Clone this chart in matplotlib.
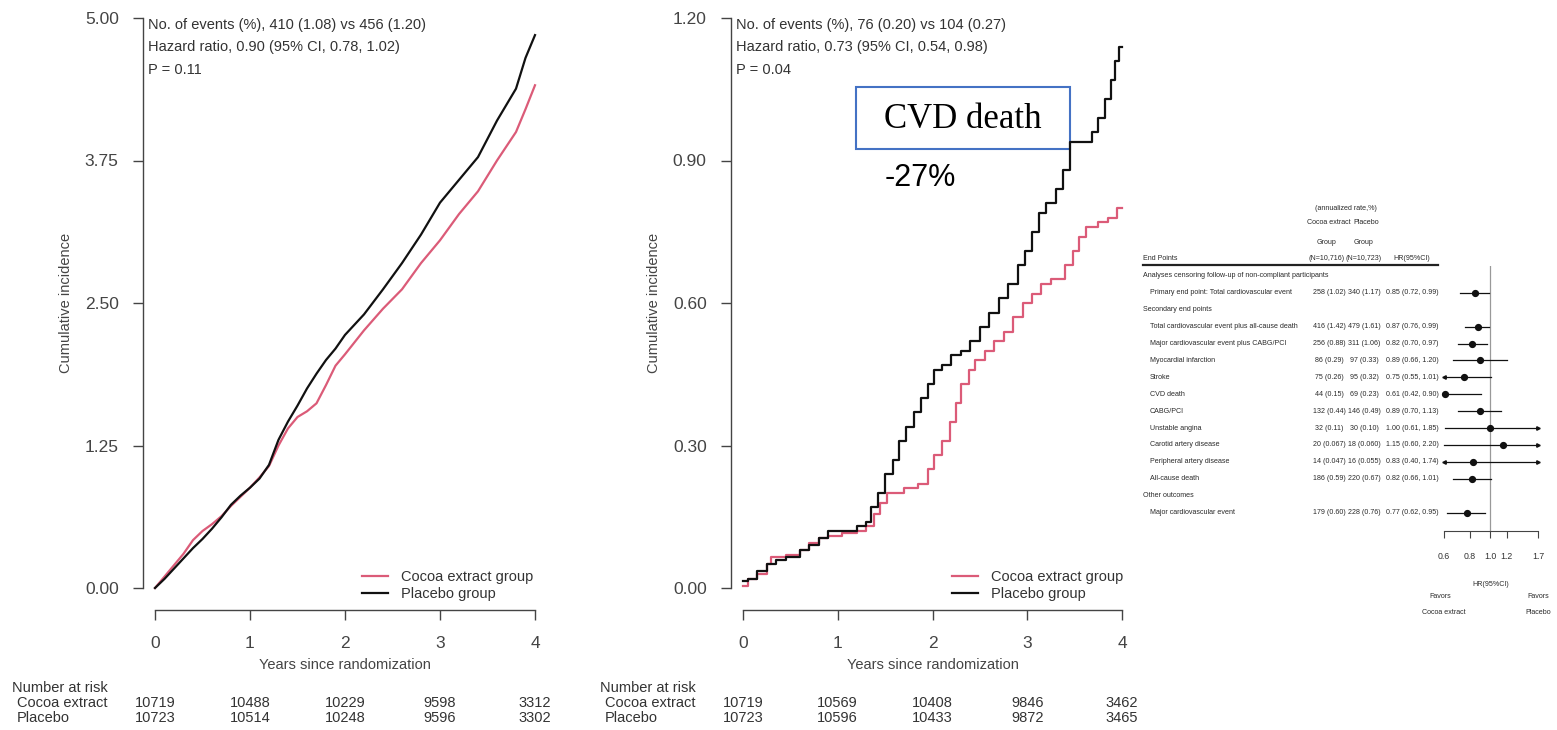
import numpy as np
import matplotlib.pyplot as plt
from matplotlib import transforms

W, H = 1557, 730

# Total cardiovascular events, cumulative incidence (%)
tot_t_cocoa = [0, 0.1, 0.2, 0.3, 0.4, 0.5, 0.6, 0.7, 0.8, 0.9, 1.0, 1.1, 1.2, 1.3, 1.4, 1.5,
               1.6, 1.7, 1.8, 1.9, 2.0, 2.2, 2.4, 2.6, 2.8, 3.0, 3.2, 3.4, 3.6, 3.8, 3.9, 4.0]
tot_cocoa = [0, 0.1, 0.2, 0.3, 0.42, 0.5, 0.56, 0.63, 0.72, 0.8, 0.88, 0.97, 1.07, 1.25, 1.4, 1.5,
             1.55, 1.62, 1.78, 1.95, 2.05, 2.26, 2.45, 2.62, 2.85, 3.05, 3.28, 3.48, 3.75, 4.0, 4.2, 4.41]
tot_t_placebo = [0, 0.1, 0.2, 0.3, 0.4, 0.5, 0.6, 0.7, 0.8, 0.9, 1.0, 1.1, 1.2, 1.3, 1.4, 1.5,
                 1.6, 1.7, 1.8, 1.9, 2.0, 2.2, 2.4, 2.6, 2.8, 3.0, 3.2, 3.4, 3.6, 3.8, 3.9, 4.0]
tot_placebo = [0, 0.08, 0.17, 0.26, 0.35, 0.43, 0.52, 0.62, 0.73, 0.81, 0.88, 0.96, 1.08, 1.3, 1.46, 1.6,
               1.75, 1.88, 2.0, 2.1, 2.22, 2.4, 2.62, 2.85, 3.1, 3.38, 3.58, 3.78, 4.1, 4.38, 4.65, 4.85]

# CVD death, cumulative incidence (%), step curves
cvd_t_cocoa = [0, 0.05, 0.15, 0.25, 0.3, 0.45, 0.6, 0.7, 0.8, 0.9, 1.05, 1.2, 1.3, 1.38, 1.45,
               1.52, 1.7, 1.85, 1.95, 2.02, 2.1, 2.18, 2.25, 2.3, 2.38, 2.45, 2.55, 2.65, 2.75,
               2.85, 2.95, 3.05, 3.15, 3.25, 3.4, 3.48, 3.55, 3.62, 3.75, 3.85, 3.95, 4.0]
cvd_cocoa = [0.005, 0.02, 0.03, 0.05, 0.065, 0.07, 0.08, 0.095, 0.105, 0.11, 0.115, 0.12, 0.13, 0.155, 0.18,
             0.2, 0.21, 0.22, 0.25, 0.28, 0.31, 0.35, 0.39, 0.43, 0.46, 0.48, 0.5, 0.52, 0.54,
             0.57, 0.6, 0.62, 0.64, 0.65, 0.68, 0.71, 0.74, 0.76, 0.77, 0.78, 0.8, 0.8]
cvd_t_placebo = [0, 0.05, 0.15, 0.25, 0.35, 0.45, 0.6, 0.7, 0.8, 0.9, 1.0, 1.2, 1.3, 1.35, 1.42, 1.5,
                 1.58, 1.65, 1.72, 1.8, 1.88, 1.95, 2.02, 2.1, 2.2, 2.3, 2.4, 2.5, 2.6, 2.7, 2.8,
                 2.9, 2.98, 3.05, 3.12, 3.2, 3.3, 3.38, 3.45, 3.6, 3.68, 3.75, 3.82, 3.88, 3.93, 3.97, 4.0]
cvd_placebo = [0.015, 0.02, 0.035, 0.05, 0.06, 0.065, 0.08, 0.09, 0.105, 0.12, 0.12, 0.13, 0.14, 0.17, 0.2, 0.24,
               0.27, 0.31, 0.34, 0.37, 0.4, 0.43, 0.46, 0.47, 0.49, 0.5, 0.52, 0.55, 0.58, 0.61, 0.64,
               0.68, 0.71, 0.75, 0.79, 0.81, 0.84, 0.88, 0.94, 0.94, 0.96, 0.99, 1.03, 1.07, 1.11, 1.14, 1.14]

risk_years = [0, 1, 2, 3, 4]
tot_risk_cocoa = [10719, 10488, 10229, 9598, 3312]
tot_risk_placebo = [10723, 10514, 10248, 9596, 3302]
cvd_risk_cocoa = [10719, 10569, 10408, 9846, 3462]
cvd_risk_placebo = [10723, 10596, 10433, 9872, 3465]

tot_stats = ['No. of events (%), 410 (1.08) vs 456 (1.20)',
             'Hazard ratio, 0.90 (95% CI, 0.78, 1.02)', 'P = 0.11']
cvd_stats = ['No. of events (%), 76 (0.20) vs 104 (0.27)',
             'Hazard ratio, 0.73 (95% CI, 0.54, 0.98)', 'P = 0.04']

# forest plot: per-protocol analyses
fp_labels = ['Analyses censoring follow-up of non-compliant participants',
             'Primary end point: Total cardiovascular event',
             'Secondary end points',
             'Total cardiovascular event plus all-cause death',
             'Major cardiovascular event plus CABG/PCI',
             'Myocardial infarction', 'Stroke', 'CVD death', 'CABG/PCI',
             'Unstable angina', 'Carotid artery disease', 'Peripheral artery disease',
             'All-cause death', 'Other outcomes', 'Major cardiovascular event']
fp_indent = [0, 1, 0, 1, 1, 1, 1, 1, 1, 1, 1, 1, 1, 0, 1]
fp_cocoa = ['', '258 (1.02)', '', '416 (1.42)', '256 (0.88)', '86 (0.29)', '75 (0.26)', '44 (0.15)',
            '132 (0.44)', '32 (0.11)', '20 (0.067)', '14 (0.047)', '186 (0.59)', '', '179 (0.60)']
fp_placebo = ['', '340 (1.17)', '', '479 (1.61)', '311 (1.06)', '97 (0.33)', '95 (0.32)', '69 (0.23)',
              '146 (0.49)', '30 (0.10)', '18 (0.060)', '16 (0.055)', '220 (0.67)', '', '228 (0.76)']
nan = np.nan
fp_hr = [nan, 0.85, nan, 0.87, 0.82, 0.89, 0.75, 0.61, 0.89, 1.00, 1.15, 0.83, 0.82, nan, 0.77]
fp_lo = [nan, 0.72, nan, 0.76, 0.70, 0.66, 0.55, 0.42, 0.70, 0.61, 0.60, 0.40, 0.66, nan, 0.62]
fp_hi = [nan, 0.99, nan, 0.99, 0.97, 1.20, 1.01, 0.90, 1.13, 1.85, 2.20, 1.74, 1.01, nan, 0.95]
fp_ticks = [0.6, 0.8, 1.0, 1.2, 1.7]

PINK = '#DB5B78'
INK = '#333333'
AX = '#444444'

plt.rcParams['font.family'] = ['Liberation Sans', 'DejaVu Sans']

fig = plt.figure(figsize=(W / 100, H / 100), dpi=100)
ov = fig.add_axes([0, 0, 1, 1])
ov.set_xlim(0, W)
ov.set_ylim(H, 0)
ov.axis('off')


def px_axes(x0, y0, x1, y1):
    return fig.add_axes([x0 / W, 1 - y1 / H, (x1 - x0) / W, (y1 - y0) / H])


def km_panel(spine_x, zero_x, four_x, ymax, yticks, t_c, v_c, t_p, v_p, steps,
             stats, risk_c, risk_p, leg_xy):
    right_x = four_x + 12
    ax = px_axes(spine_x, 18, right_x, 610)
    ppy = (four_x - zero_x) / 4
    ax.set_xlim((spine_x - zero_x) / ppy, (right_x - zero_x) / ppy)
    ppv = (588 - 18) / ymax
    ax.set_ylim(-(610 - 588) / ppv, ymax)
    ax.patch.set_alpha(0)

    ds = 'steps-post' if steps else 'default'
    ax.plot(t_c, v_c, color=PINK, lw=1.6, drawstyle=ds, label='Cocoa extract group')
    ax.plot(t_p, v_p, color='#111111', lw=1.6, drawstyle=ds, label='Placebo group')

    for s in ['top', 'right']:
        ax.spines[s].set_visible(False)
    for s in ['left', 'bottom']:
        ax.spines[s].set_color(AX)
        ax.spines[s].set_linewidth(1.0)
    ax.spines['left'].set_bounds(0, ymax)
    ax.spines['bottom'].set_bounds(0, 4)
    ax.set_xticks(risk_years)
    ax.set_yticks(yticks)
    ax.set_yticklabels(['%.2f' % v for v in yticks])
    ax.tick_params(length=7, width=1.0, color=AX, labelcolor=AX, labelsize=12.5)
    ax.tick_params(axis='y', pad=10.5)
    ax.tick_params(axis='x', pad=12)

    width_px = right_x - spine_x
    ax.set_ylabel('Cumulative incidence', fontsize=10.5, color=AX)
    ax.yaxis.set_label_coords(-70 / width_px, (610 - 303) / 592)
    ax.set_xlabel('Years since randomization', fontsize=10.5, color=AX)
    ax.xaxis.set_label_coords(((zero_x + four_x) / 2 - spine_x) / width_px, (610 - 658) / 592)

    for i, line in enumerate(stats):
        ov.text(spine_x + 5, 25 + 22.5 * i, line, fontsize=10.5, color=INK, va='center')

    ax.legend(loc='upper left', bbox_to_anchor=(leg_xy[0] / W, 1 - leg_xy[1] / H),
              bbox_transform=fig.transFigure, frameon=False, borderpad=0, borderaxespad=0,
              handlelength=1.8, handletextpad=0.9, labelspacing=0.2, fontsize=10.5,
              labelcolor=INK)

    tr = transforms.blended_transform_factory(ax.transData, ov.transData)
    for t, nc, npl in zip(risk_years, risk_c, risk_p):
        ax.text(t, 703, str(nc), transform=tr, ha='center', va='center', fontsize=10.5, color=INK)
        ax.text(t, 718, str(npl), transform=tr, ha='center', va='center', fontsize=10.5, color=INK)
    ov.text(spine_x - 131, 688, 'Number at risk', fontsize=10.5, color=INK, va='center')
    ov.text(spine_x - 126, 703, 'Cocoa extract', fontsize=10.5, color=INK, va='center')
    ov.text(spine_x - 126, 718, 'Placebo', fontsize=10.5, color=INK, va='center')
    return ax


km_panel(143, 155, 535, 5.0, [0, 1.25, 2.5, 3.75, 5.0],
         tot_t_cocoa, tot_cocoa, tot_t_placebo, tot_placebo, False,
         tot_stats, tot_risk_cocoa, tot_risk_placebo, (362, 570))
km_panel(731, 743, 1122, 1.2, [0, 0.3, 0.6, 0.9, 1.2],
         cvd_t_cocoa, cvd_cocoa, cvd_t_placebo, cvd_placebo, True,
         cvd_stats, cvd_risk_cocoa, cvd_risk_placebo, (952, 570))

# callout box
ov.add_patch(plt.Rectangle((856, 87), 214, 62, fill=True, facecolor='white',
                           edgecolor='#4472C4', lw=1.5, zorder=5))
ov.text(963, 119, 'CVD death', fontsize=25, family='Liberation Serif', color='black',
        ha='center', va='center', zorder=6)
ov.text(885, 178, '-27%', fontsize=22, family='Liberation Sans', color='black',
        ha='left', va='center', zorder=6)

# forest plot
row0_px, row_step = 276, 16.9
fa = px_axes(1444, 266, 1538, 531)
fa.set_xscale('log')
fa.set_xlim(0.6, 1.7)
fa.set_ylim((531 - row0_px) / row_step, (266 - row0_px) / row_step)
fa.patch.set_alpha(0)
for s in ['top', 'right', 'left']:
    fa.spines[s].set_visible(False)
fa.spines['bottom'].set_color(AX)
fa.spines['bottom'].set_linewidth(0.8)
fa.set_yticks([])
fa.set_xticks(fp_ticks)
fa.set_xticklabels(['%.1f' % v for v in fp_ticks])
fa.minorticks_off()
fa.tick_params(axis='x', length=5, width=0.8, color=AX, labelcolor=INK, labelsize=6.3, pad=10)
fa.axvline(1.0, color='#999999', lw=0.9)
for r, (hr, lo, hi) in enumerate(zip(fp_hr, fp_lo, fp_hi)):
    if np.isnan(hr):
        continue
    fa.plot([max(lo, 0.6), min(hi, 1.7)], [r, r], color='#111111', lw=0.9, clip_on=False)
    fa.plot(hr, r, 'o', ms=4.2, color='#111111', clip_on=False)
    if hi > 1.7:
        fa.plot(1.7, r, marker='>', ms=2.5, color='#111111', clip_on=False)
    if lo < 0.6:
        fa.plot(0.6, r, marker='<', ms=2.5, color='#111111', clip_on=False)

fp_font = dict(fontsize=5.1, color='#2a2a2a', va='center')
ftr = transforms.blended_transform_factory(ov.transData, fa.transData)
for r, lab in enumerate(fp_labels):
    ov.text(1143 + 7 * fp_indent[r], r, lab, transform=ftr, ha='left', **fp_font)
    if fp_cocoa[r]:
        ov.text(1329, r, fp_cocoa[r], transform=ftr, ha='center', **fp_font)
        ov.text(1364, r, fp_placebo[r], transform=ftr, ha='center', **fp_font)
        ov.text(1412, r, '%.2f (%.2f, %.2f)' % (fp_hr[r], fp_lo[r], fp_hi[r]),
                transform=ftr, ha='center', **fp_font)

ov.text(1346, 208, '(annualized rate,%)', ha='center', **fp_font)
ov.text(1329, 223, 'Cocoa extract', ha='center', **fp_font)
ov.text(1366, 223, 'Placebo', ha='center', **fp_font)
ov.text(1327, 242, 'Group', ha='center', **fp_font)
ov.text(1364, 242, 'Group', ha='center', **fp_font)
ov.text(1143, 258, 'End Points', ha='left', **fp_font)
ov.text(1327, 258, '(N=10,716)', ha='center', **fp_font)
ov.text(1364, 258, '(N=10,723)', ha='center', **fp_font)
ov.text(1412, 258, 'HR(95%CI)', ha='center', **fp_font)
ov.plot([1143, 1438], [265, 265], color='#222222', lw=1.6)
ov.text(1491, 585, 'HR(95%CI)', ha='center', **fp_font)
ov.text(1440, 597, 'Favors', ha='center', **fp_font)
ov.text(1444, 613, 'Cocoa extract', ha='center', **fp_font)
ov.text(1538, 597, 'Favors', ha='center', **fp_font)
ov.text(1538, 613, 'Placebo', ha='center', **fp_font)

fig.savefig('out.png', dpi=100)
